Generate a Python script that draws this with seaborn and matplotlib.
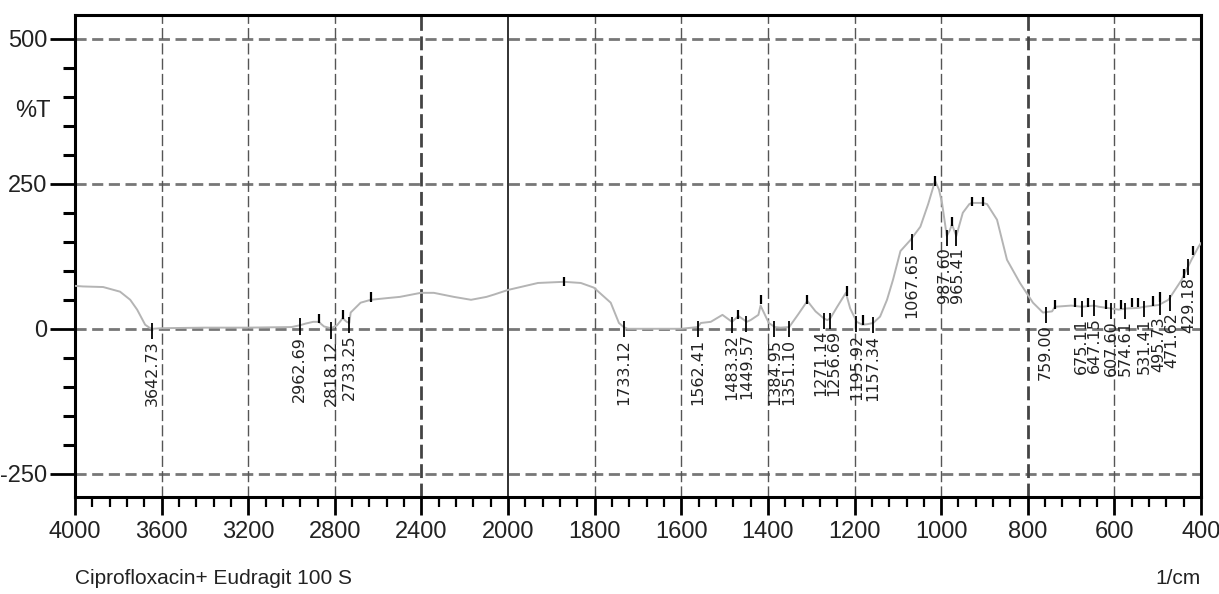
import numpy as np
import pandas as pd
import matplotlib
matplotlib.use("Agg")
import matplotlib.pyplot as plt
import seaborn as sns
from matplotlib.ticker import FixedLocator, MultipleLocator

# ---------------- data ----------------
wavenumber = [4000, 3963, 3870, 3792, 3745, 3713, 3676, 3653, 3642, 3600, 3400, 3200,
              3000, 2962, 2935, 2900, 2875, 2850, 2818, 2790, 2764, 2745, 2733, 2727,
              2681, 2634, 2556, 2500, 2403, 2343, 2250, 2171, 2100, 2065, 2000, 1931,
              1871, 1832, 1802, 1763, 1744, 1733, 1724, 1650, 1600, 1562, 1555, 1532,
              1505, 1483, 1468, 1449, 1440, 1422, 1417, 1398, 1384, 1371, 1351, 1330,
              1309, 1290, 1271, 1263, 1256, 1240, 1220, 1210, 1195, 1182, 1170, 1157,
              1141, 1125, 1111, 1094, 1071, 1048, 1030, 1018, 1014, 1005, 998, 987,
              980, 975, 965, 950, 935, 929, 904, 894, 871, 848, 818, 788, 765, 744,
              737, 700, 675, 647, 636, 607, 590, 574, 544, 531, 498, 475, 445, 422,
              406, 400]
transmittance = [74, 73, 72, 64, 50, 33, 7, 1, 0, 1, 2, 2,
                 3, 6, 9, 12, 12, 4, 1, 6, 18, 12, 10, 28,
                 45, 50, 53, 55, 62, 62, 55, 50, 55, 59, 67, 79,
                 81, 79, 71, 45, 10, 3, 0, 0, 0, 3, 10, 12,
                 24, 12, 22, 12, 15, 24, 40, 10, 3, 2, 3, 25,
                 48, 30, 18, 15, 18, 38, 62, 35, 12, 7, 8, 10,
                 21, 50, 85, 134, 153, 176, 215, 245, 255, 240, 217, 160,
                 170, 180, 160, 200, 215, 217, 217, 215, 188, 119, 79, 45, 28, 30,
                 38, 40, 38, 40, 38, 35, 33, 35, 36, 38, 41, 50, 84, 119,
                 141, 148]

peak_labels = ["3642.73", "2962.69", "2818.12", "2733.25", "1733.12", "1562.41",
               "1483.32", "1449.57", "1384.95", "1351.10", "1271.14", "1256.69",
               "1195.92", "1157.34", "1067.65", "987.60", "965.41", "759.00",
               "675.11", "647.15", "607.60", "574.61", "531.41", "495.73",
               "471.62", "429.18"]
peak_pos = [3642.73, 2962.69, 2818.12, 2733.25, 1733.12, 1562.41,
            1483.32, 1449.57, 1384.95, 1351.10, 1271.14, 1256.69,
            1195.92, 1157.34, 1067.65, 987.60, 965.41, 759.00,
            675.11, 647.15, 607.60, 574.61, 531.41, 495.73,
            471.62, 429.18]
peak_pct = [0, 8, 1, 10, 3, 3, 10, 12, 3, 3, 18, 18,
            12, 10, 153, 160, 160, 28, 38, 40, 35, 35, 38, 41, 48, 110]

# unlabeled peak markers (maxima)
mark_pos = [2875, 2764, 2634, 1871, 1468, 1417, 1309, 1217, 1180, 1014, 975, 929,
            904, 737, 690, 660, 620, 585, 560, 545, 510, 495, 440, 418]
mark_pct = [18, 25, 55, 82, 25, 50, 50, 65, 15, 255, 185, 220,
            220, 42, 45, 45, 42, 42, 45, 45, 48, 55, 95, 135]

y_ticks = [500, 250, 0, -250]
x_ticks = [4000, 3600, 3200, 2800, 2400, 2000, 1800, 1600, 1400, 1200, 1000, 800, 600, 400]

df = pd.DataFrame({"wavenumber": wavenumber, "T": transmittance})

# ---------------- styling ----------------
sns.set_style("white")
plt.rcParams["font.family"] = ["Liberation Sans", "DejaVu Sans"]

fig = plt.figure(figsize=(12.19, 5.94), dpi=100)
ax = fig.add_axes([75 / 1219, 1 - 497 / 594, (1201 - 75) / 1219, (497 - 15) / 594])


def fwd(x):
    x = np.asarray(x, dtype=float)
    return np.where(x > 2000, 2000 + (x - 2000) / 2.0, x)


def inv(u):
    u = np.asarray(u, dtype=float)
    return np.where(u > 2000, 2000 + (u - 2000) * 2.0, u)


ax.set_xscale("function", functions=(fwd, inv))

sns.lineplot(data=df, x="wavenumber", y="T", ax=ax, color="#b4b4b4",
             linewidth=1.4, sort=False, estimator=None, zorder=3)

ax.set_xlim(4000, 400)
ax.set_ylim(-290, 541)

# grid
for yv in y_ticks:
    ax.axhline(yv, color="#777777", lw=2.0, ls=(0, (4, 2)), zorder=1)
for xv in x_ticks[1:-1]:
    if xv == 2000:
        ax.axvline(xv, color="#222222", lw=1.3, zorder=1)
    elif xv in (2400, 800):
        ax.axvline(xv, color="#444444", lw=2.0, ls=(0, (5, 2)), zorder=1)
    else:
        ax.axvline(xv, color="#555555", lw=1.0, ls=(0, (8, 3)), zorder=1)

# ticks
ax.set_yticks(y_ticks)
ax.yaxis.set_minor_locator(MultipleLocator(50))
ax.set_xticks(x_ticks)
minor_x = list(np.arange(3920, 2000, -80)) + list(np.arange(1960, 400, -40))
ax.xaxis.set_minor_locator(FixedLocator(minor_x))
ax.set_xticklabels([str(v) for v in x_ticks], fontsize=17)
ax.set_yticklabels([str(v) for v in y_ticks], fontsize=17)
ax.tick_params(axis="both", which="both", bottom=True, left=True, top=False, right=False)
ax.tick_params(axis="x", which="major", direction="out", length=13, width=2, color="black", pad=4)
ax.tick_params(axis="y", which="major", direction="out", length=18, width=2, color="black", pad=2)
ax.tick_params(axis="x", which="minor", direction="out", length=7, width=1.6, color="black")
ax.tick_params(axis="y", which="minor", direction="out", length=9, width=2.2, color="black")
for t in ax.get_xticklabels() + ax.get_yticklabels():
    t.set_color("#222222")

for s in ax.spines.values():
    s.set_linewidth(2.2)
    s.set_color("black")
    s.set_visible(True)

ax.set_xlabel("")
ax.set_ylabel("%T", rotation=0, fontsize=17, va="center", ha="center", color="#222222")
ax.yaxis.set_label_coords(-0.037, 0.80)

# peak markers
ax.vlines(peak_pos, [p - 18 for p in peak_pct], [p + 10 for p in peak_pct],
          colors="black", lw=1.3, zorder=4)
ax.vlines(mark_pos, [p - 8 for p in mark_pct], [p + 8 for p in mark_pct],
          colors="black", lw=1.6, zorder=4)

# spread label positions (in display pixels) so neighbouring labels don't collide
px = ax.transData.transform(np.column_stack([peak_pos, np.zeros(len(peak_pos))]))[:, 0]
order = np.argsort(px)
lx = px[order].astype(float)
gap = 13.0
for _ in range(200):
    moved = False
    for i in range(1, len(lx)):
        d = lx[i] - lx[i - 1]
        if d < gap:
            shift = (gap - d) / 2.0
            lx[i - 1] -= shift
            lx[i] += shift
            moved = True
    if not moved:
        break
label_px = np.empty_like(lx)
label_px[order] = lx
label_x = ax.transData.inverted().transform(
    np.column_stack([label_px, np.zeros(len(label_px))]))[:, 0]

for lab, xl, xp, yp in zip(peak_labels, label_x, peak_pos, peak_pct):
    ax.text(xl, yp - 20, lab, rotation=90, ha="center", va="top",
            fontsize=11.5, family=["DejaVu Sans"], color="#222222", zorder=5)

fig.text(75 / 1219, 1 - 578 / 594, "Ciprofloxacin+ Eudragit 100 S",
         fontsize=15, ha="left", va="center", color="#222222")
fig.text(1201 / 1219, 1 - 578 / 594, "1/cm", fontsize=15, ha="right",
         va="center", color="#222222")

fig.savefig("out.png", dpi=100)
